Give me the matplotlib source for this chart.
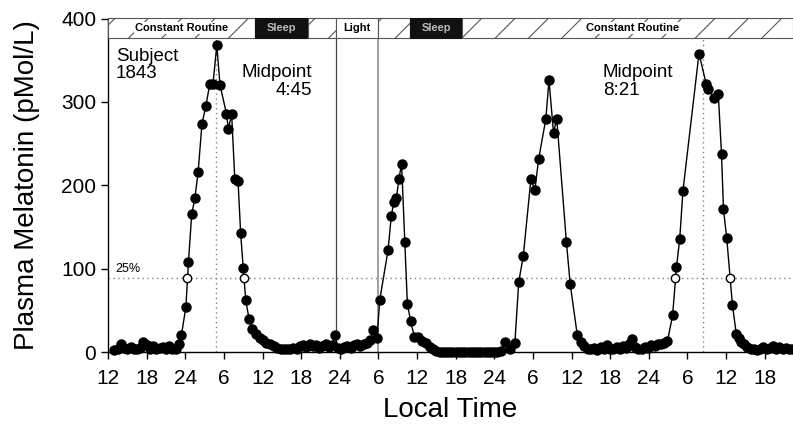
import matplotlib
matplotlib.use('Agg')
import matplotlib.pyplot as plt
from matplotlib.patches import Rectangle

plt.rcParams['font.family'] = ['Liberation Sans', 'DejaVu Sans']

# ---- data (hours since 12:00 of the first day, melatonin pMol/L) ----
hours = [1.0, 1.5, 2.0, 2.5, 3.0, 3.5, 4.0, 4.5, 5.0, 5.5, 6.0, 6.5, 7.0, 7.5, 8.0,
         8.5, 9.0, 9.5, 10.0, 10.5, 11.0, 11.4, 12.1, 12.5, 13.0, 13.5, 14.0, 14.6,
         15.2, 15.8, 16.3, 16.9, 17.4, 18.4, 18.7, 19.2, 19.7, 20.2, 20.6, 21.0, 21.4,
         21.9, 22.4, 23.0, 23.6, 24.1, 24.6, 25.2, 25.8, 26.3, 26.8, 27.3, 27.8, 28.3,
         28.8, 29.3, 29.8, 30.3, 30.8, 31.3, 31.8, 32.3, 32.8, 33.3, 33.8, 34.3, 34.8,
         35.3, 35.7, 36.2, 36.7, 37.2, 37.7, 38.2, 38.7, 39.2, 39.7, 40.2, 40.7, 41.2,
         41.8, 42.2, 43.5, 44.0, 44.4, 44.8, 45.2, 45.6, 46.1, 46.5, 47.0, 47.6, 48.2,
         48.8, 49.4, 50.0, 50.5, 51.0, 51.5, 52.0, 52.5, 53.0, 53.5, 54.0, 54.5, 55.0,
         55.5, 56.0, 56.5, 57.0, 57.5, 58.0, 58.5, 59.0, 59.5, 60.0, 60.5, 61.0, 61.7,
         62.4, 63.2, 63.8, 64.5, 65.7, 66.3, 66.9, 68.0, 68.5, 69.2, 69.7, 71.2, 71.8,
         72.9, 73.5, 74.0, 74.5, 75.0, 75.5, 76.0, 76.5, 77.0, 77.5, 78.0, 78.5, 79.0,
         79.5, 80.0, 80.5, 81.0, 81.4, 81.9, 82.4, 82.9, 83.4, 83.9, 84.4, 84.9, 85.4,
         85.9, 86.4, 86.9, 87.7, 88.3, 88.8, 89.3, 91.8, 92.9, 93.2, 94.2, 94.8, 95.3,
         95.6, 96.1, 97.0, 97.6, 98.0, 98.4, 98.8, 99.3, 99.8, 100.3, 100.8, 101.3,
         101.8, 102.3, 102.8, 103.3, 103.8, 104.3, 104.8, 105.3, 105.8, 106.3]
melatonin = [2, 4, 9, 5, 3, 6, 4, 3, 5, 12, 8, 4, 7, 3, 5,
             6, 3, 7, 4, 3, 10, 20, 54, 108, 165, 185, 216, 274,
             295, 321, 321, 368, 320, 286, 267, 286, 207, 205, 143, 101, 62,
             40, 28, 22, 17, 14, 11, 9, 7, 5, 4, 3, 4, 3,
             5, 4, 7, 8, 6, 9, 7, 8, 5, 7, 9, 6, 8,
             20, 5, 4, 6, 7, 5, 8, 9, 7, 9, 11, 14, 26,
             17, 62, 122, 163, 180, 185, 208, 226, 132, 58, 37, 18, 18,
             13, 11, 6, 3, 1, 0, 0, 0, 0, 0, 0, 0, 0,
             0, 0, 0, 0, 0, 0, 0, 0, 0, 0, 0, 1, 12,
             3, 11, 84, 115, 208, 194, 232, 279, 326, 263, 280, 132, 81,
             20, 12, 7, 4, 3, 5, 2, 6, 3, 8, 4, 3, 6,
             4, 7, 5, 9, 16, 6, 3, 4, 6, 5, 8, 7, 9,
             10, 11, 13, 44, 102, 135, 193, 358, 322, 315, 305, 309, 237,
             171, 137, 56, 21, 17, 12, 9, 6, 4, 3, 2, 4,
             6, 3, 5, 7, 4, 6, 3, 5, 4, 3]

crossing_hours = [12.27, 21.1, 88.0, 96.6]
crossing_level = 89
midpoint_hours = [16.75, 92.35]

xtick_hours = [0, 6, 12, 18, 24, 30, 36, 42, 48, 54, 60, 66, 72, 78, 84, 90, 96, 102]
xtick_labels = ['12', '18', '24', '6', '12', '18', '24', '6', '12', '18', '24', '6',
                '12', '18', '24', '6', '12', '18']
ytick_values = [0, 100, 200, 300, 400]

seg_starts = [0, 22.8, 31.05, 35.4, 41.9, 46.9, 55.0]
seg_ends = [22.8, 31.05, 35.4, 41.9, 46.9, 55.0, 106.4]
seg_kinds = ['hatch', 'dark', 'hatch', 'light', 'hatch', 'dark', 'hatch']
seg_labels = ['Constant Routine', 'Sleep', '', 'Light', '', 'Sleep', 'Constant Routine']
seg_label_x = [11.4, 26.9, None, 38.65, None, 50.95, 81.5]

light_lines = [35.4, 42.0]

# ---- figure ----
fig = plt.figure(figsize=(7.93, 4.38), dpi=100)
ax = fig.add_axes([108 / 793, 86 / 438, 685 / 793, 333.5 / 438])
ax.set_xlim(0, 106.4)
ax.set_ylim(0, 400)

bar_lo, bar_hi = 377, 400

# reference lines
ax.axhline(crossing_level, color='#808080', ls=(0, (1, 2.5)), lw=1.0, zorder=1)
for m in midpoint_hours:
    ax.plot([m, m], [0, bar_lo], color='#808080', ls=(0, (1, 2.5)), lw=1.0, zorder=1)
ax.plot([light_lines[0]] * 2, [0, bar_hi], color='#444444', lw=0.9, zorder=1)
ax.plot([light_lines[1]] * 2, [0, bar_hi], color='#999999', lw=1.3, zorder=1)

# data
ax.plot(hours, melatonin, color='black', lw=1.0, marker='o', ms=6.5,
        markerfacecolor='black', markeredgecolor='black', zorder=3, clip_on=False)
ax.plot(crossing_hours, [crossing_level] * len(crossing_hours), ls='none', marker='o',
        ms=6, markerfacecolor='white', markeredgecolor='black', markeredgewidth=1.0,
        zorder=4)

# schedule bar
plt.rcParams['hatch.color'] = '#777777'
plt.rcParams['hatch.linewidth'] = 0.8
for s, e, k, lab, lx in zip(seg_starts, seg_ends, seg_kinds, seg_labels, seg_label_x):
    if k == 'hatch':
        r = Rectangle((s, bar_lo), e - s, bar_hi - bar_lo, facecolor='white',
                      edgecolor='#555555', hatch='/', lw=0.8, zorder=5, clip_on=False)
    elif k == 'dark':
        r = Rectangle((s, bar_lo), e - s, bar_hi - bar_lo, facecolor='#111111',
                      edgecolor='#111111', lw=0.8, zorder=5, clip_on=False)
    else:
        r = Rectangle((s, bar_lo), e - s, bar_hi - bar_lo, facecolor='white',
                      edgecolor='#555555', lw=0.8, zorder=5, clip_on=False)
    ax.add_patch(r)
    if lab:
        col = '#bbbbbb' if k == 'dark' else 'black'
        bbox = dict(facecolor='white', edgecolor='none', pad=0.5) if k == 'hatch' else None
        ax.text(lx, (bar_lo + bar_hi) / 2, lab, ha='center', va='center', fontsize=8,
                fontweight='bold', color=col, zorder=6, bbox=bbox)

# annotations
ax.text(1.25, 365, 'Subject\n1843', ha='left', va='top', fontsize=13.5, linespacing=1.05)
ax.text(31.7, 345, 'Midpoint\n4:45', ha='right', va='top', fontsize=13.5, linespacing=1.05)
ax.text(76.85, 345, 'Midpoint\n8:21', ha='left', va='top', fontsize=13.5, linespacing=1.05)
ax.text(1.1, 100, '25%', ha='left', va='center', fontsize=9)

# axes styling
ax.spines['top'].set_visible(False)
ax.spines['right'].set_visible(False)
ax.spines['left'].set_linewidth(1.0)
ax.spines['bottom'].set_linewidth(1.0)
ax.set_xticks(xtick_hours)
ax.set_xticklabels(xtick_labels)
ax.set_yticks(ytick_values)
ax.tick_params(axis='both', direction='out', length=5, width=1.0, labelsize=15)
ax.tick_params(axis='x', pad=7)

ax.set_ylabel('Plasma Melatonin (pMol/L)', fontsize=20)
ax.yaxis.set_label_coords(-0.099, 0.5)
ax.set_xlabel('Local Time', fontsize=20)
ax.xaxis.set_label_coords(0.5, -0.135)

fig.savefig('out.png', dpi=100)
